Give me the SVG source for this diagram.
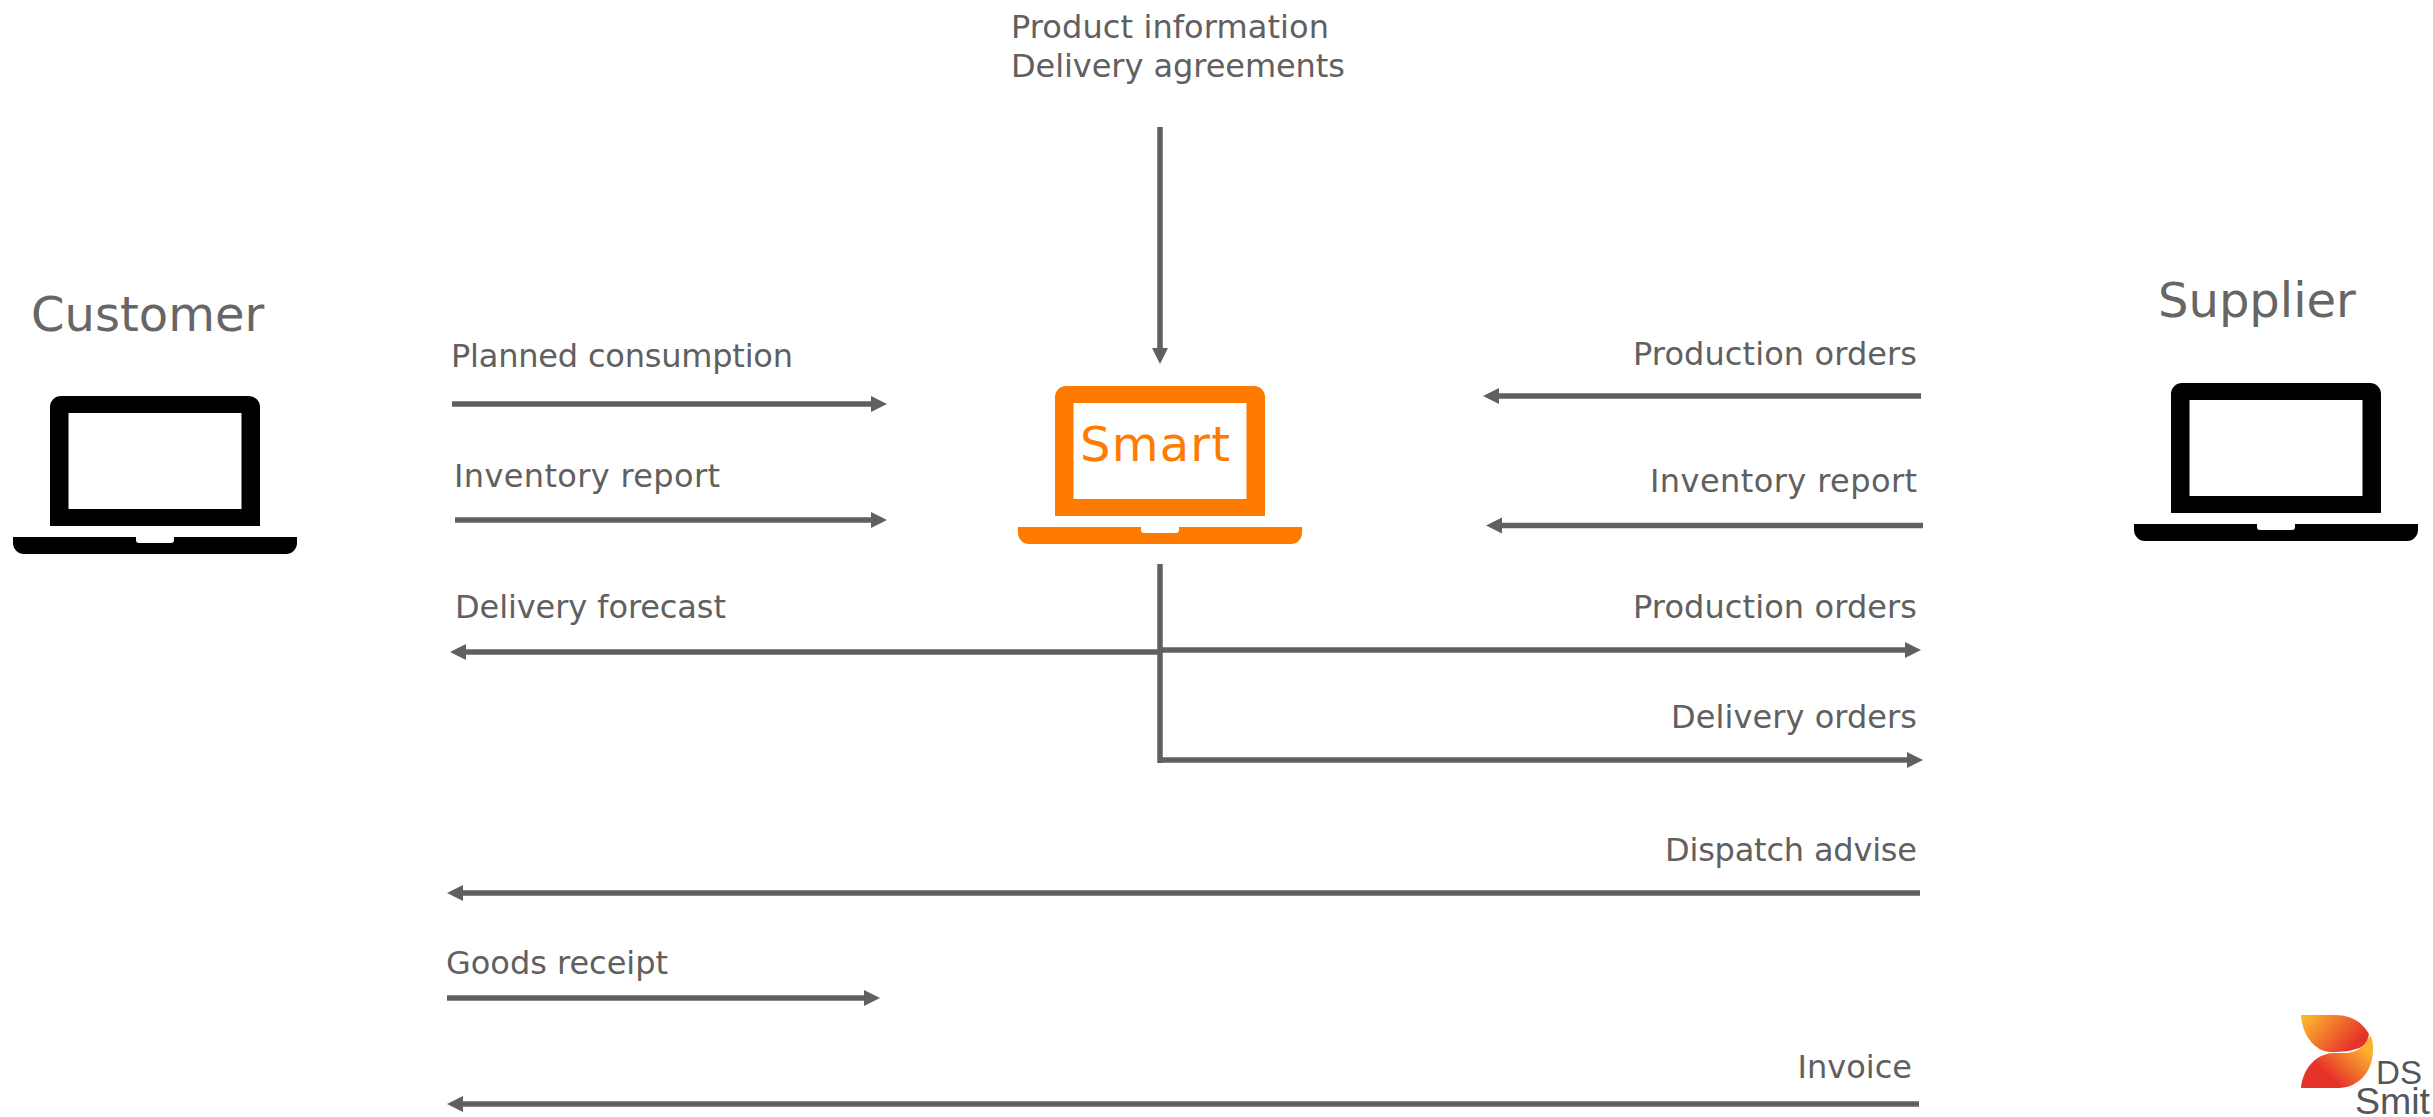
<svg xmlns="http://www.w3.org/2000/svg" width="2433" height="1117" viewBox="0 0 2433 1117">
<style>
.l{font-family:"DejaVu Sans",Verdana,sans-serif;font-size:32px;fill:#606060}
.e{text-anchor:end}
.t{font-family:"DejaVu Sans",Verdana,sans-serif;font-size:48px;fill:#666}
.s{font-family:"DejaVu Sans",Verdana,sans-serif;font-size:48px;fill:#ff7b00}
.m{font-family:"Liberation Sans",Arial,sans-serif;fill:#55565a}
.c{fill:none;stroke:#606060;stroke-width:5.500}
</style>
<defs>
<marker id="a" markerUnits="userSpaceOnUse" markerWidth="18" markerHeight="18" refX="8" refY="9" orient="auto"><path d="M0 1L16 9L0 17Z" fill="#606060"/></marker>
<path id="lap" fill-rule="evenodd" d="M50 407a11 11 0 0 1 11-11H249a11 11 0 0 1 11 11V526H50ZM68.500 413V509H241.500V413ZM13 537H136V540a3 3 0 0 0 3 3H171a3 3 0 0 0 3-3V537H297V543a11 11 0 0 1-11 11H24a11 11 0 0 1-11-11Z"/>
<linearGradient id="g1" x1="0" y1="0" x2="1" y2="0.500"><stop offset="0.100" stop-color="#fbb12e"/><stop offset="0.950" stop-color="#e6332a"/></linearGradient>
<linearGradient id="g2" x1="0" y1="1" x2="1" y2="0.200"><stop offset="0.350" stop-color="#e6332a"/><stop offset="0.900" stop-color="#fbb12e"/></linearGradient>
</defs>
<g id="connectors">
<path class="c" marker-end="url(#a)" d="M1160 127V356"/>
<path class="c" marker-end="url(#a)" d="M452 404H879"/>
<path class="c" marker-end="url(#a)" d="M455 520H879"/>
<path class="c" d="M1160 564V763"/>
<path class="c" marker-end="url(#a)" d="M1160 652H458"/>
<path class="c" marker-end="url(#a)" d="M1160 650H1913"/>
<path class="c" marker-end="url(#a)" d="M1160 760H1915"/>
<path class="c" marker-end="url(#a)" d="M1921 396H1491"/>
<path class="c" marker-end="url(#a)" d="M1923 525.500H1494"/>
<path class="c" marker-end="url(#a)" d="M1920 893H455"/>
<path class="c" marker-end="url(#a)" d="M447 998H872"/>
<path class="c" marker-end="url(#a)" d="M1919 1104H455"/>
</g>
<g id="customer"><use href="#lap" fill="#000"/><text class="t" x="31" y="331">Customer</text></g>
<g id="smart"><use href="#lap" x="1005" y="-10" fill="#ff7b00"/><text class="s" x="1080" y="461" textLength="150">Smart</text></g>
<g id="supplier"><use href="#lap" x="2121" y="-13" fill="#000"/><text class="t" x="2158" y="317">Supplier</text></g>
<g id="labels">
<text class="l" x="1011" y="38" textLength="318">Product information</text>
<text class="l" x="1011" y="77" textLength="334">Delivery agreements</text>
<text class="l" x="451" y="367" textLength="342">Planned consumption</text>
<text class="l" x="454" y="487" textLength="266">Inventory report</text>
<text class="l" x="455" y="618" textLength="271">Delivery forecast</text>
<text class="l" x="446" y="974" textLength="222">Goods receipt</text>
<text class="l e" x="1917" y="365" textLength="284">Production orders</text>
<text class="l e" x="1917" y="492" textLength="267">Inventory report</text>
<text class="l e" x="1917" y="618" textLength="284">Production orders</text>
<text class="l e" x="1917" y="728" textLength="246">Delivery orders</text>
<text class="l e" x="1917" y="861" textLength="252">Dispatch advise</text>
<text class="l e" x="1912" y="1078">Invoice</text>
</g>
<g id="logo">
<path fill="url(#g1)" d="M2301 1015H2335C2351 1015 2362 1022 2369 1034C2368 1040 2366 1044 2363 1046C2355 1051 2342 1052 2331 1052C2315 1052 2302 1035 2301 1015Z"/>
<path fill="url(#g2)" d="M2301 1088C2303 1068 2316 1054 2333 1053L2345 1053C2358 1053 2366 1045 2370 1035C2373 1040 2373 1045 2373 1050C2373 1072 2358 1088 2338 1088Z"/>
<text class="m" x="2376" y="1084" font-size="33" textLength="46" lengthAdjust="spacingAndGlyphs">DS</text>
<text class="m" x="2355" y="1114" font-size="37" textLength="75" lengthAdjust="spacingAndGlyphs">Smit</text>
</g>
</svg>
